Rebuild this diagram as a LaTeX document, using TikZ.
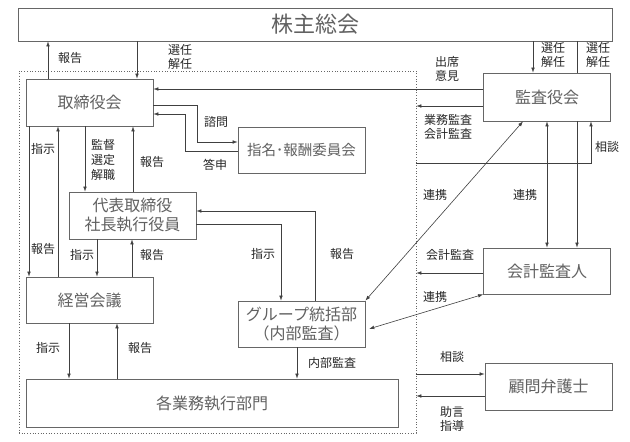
\documentclass[tikz,border=0pt]{standalone}
\usepackage{fontspec}
\newfontfamily\jp{Noto Sans CJK JP}
\usetikzlibrary{arrows.meta}
\begin{document}
\begin{tikzpicture}[x=1pt,y=-1pt,
  box/.style={draw=black!60, line width=0.8pt, font=\jp\fontsize{16}{19}\selectfont, text=black!62, inner sep=0pt, align=center},
  lbl/.style={font=\jp\fontsize{12}{14}\selectfont, text=black!85, inner sep=0pt, align=center},
  conn/.style={draw=black!75, line width=0.6pt},
  arr/.style={conn, -{Latex[length=5pt,width=3.6pt]}},
  darr/.style={conn, {Latex[length=5pt,width=3.6pt]}-{Latex[length=5pt,width=3.6pt]}}]
\useasboundingbox (0,0) rectangle (630,442);
\fill[white] (0,0) rectangle (630,442);
% organisation frame
\node[draw=black!60, dotted, line width=0.7pt, minimum width=397pt, minimum height=362pt, inner sep=0pt] (org) at (217.5,252) {};
% boxes
\node[box, minimum width=594pt, minimum height=33pt, font=\jp\fontsize{22}{24}\selectfont] (sh) at (315,24.5) {株主総会};
\node[box, minimum width=127pt, minimum height=47pt] (tori) at (89.5,102.5) {取締役会};
\node[box, minimum width=127pt, minimum height=46pt, font=\jp\fontsize{14.5}{18}\selectfont] (shimei) at (301.5,150) {指名･報酬委員会};
\node[box, minimum width=127pt, minimum height=47pt] (daihyo) at (132.5,215.5) {代表取締役\\社長執行役員};
\node[box, minimum width=127pt, minimum height=46pt] (keiei) at (89.5,300) {経営会議};
\node[box, minimum width=127pt, minimum height=46pt] (group) at (301.5,324) {グループ統括部\\（内部監査）};
\node[box, minimum width=372pt, minimum height=48pt] (kaku) at (212,403) {各業務執行部門};
\node[box, minimum width=127pt, minimum height=48pt] (kansa) at (547,97) {監査役会};
\node[box, minimum width=127pt, minimum height=46pt] (kaikei) at (547,271) {会計監査人};
\node[box, minimum width=127pt, minimum height=47pt] (komon) at (548.5,386.5) {顧問弁護士};
% helper coordinates
\foreach \v in {29,48,58,69,85,97,117,132,133,137,185,197,281,297,315,523,533,547,577,591}
  {\coordinate (x\v) at (\v,0);}
\foreach \v in {89,105,106,114,142,151,163,211,224,273,330,374,396}
  {\coordinate (y\v) at (0,\v);}
% connectors
\draw[arr] (tori.north -| x48) -- (sh.south -| x48);
\draw[arr] (sh.south -| x137) -- (tori.north -| x137);
\draw[arr] (kansa.west |- y89) -- (tori.east |- y89);
\draw[arr] (kansa.west |- y106) -- (org.east |- y106);
\draw[arr] (tori.east |- y105) -- (x197 |- y105) -- (x197 |- y142) -- (shimei.west |- y142);
\draw[arr] (shimei.west |- y151) -- (x185 |- y151) -- (x185 |- y114) -- (tori.east |- y114);
\draw[arr] (tori.south -| x29) -- (keiei.north -| x29);
\draw[arr] (keiei.north -| x58) -- (tori.south -| x58);
\draw[arr] (tori.south -| x85) -- (daihyo.north -| x85);
\draw[arr] (daihyo.north -| x133) -- (tori.south -| x133);
\draw[arr] (daihyo.south -| x97) -- (keiei.north -| x97);
\draw[arr] (keiei.north -| x132) -- (daihyo.south -| x132);
\draw[arr] (daihyo.east |- y224) -- (x281 |- y224) -- (group.north -| x281);
\draw[arr] (group.north -| x315) -- (x315 |- y211) -- (daihyo.east |- y211);
\draw[darr] (kansa.south -| x523) -- (group.north east);
\draw[darr] (kansa.south -| x547) -- (kaikei.north -| x547);
\draw[arr] (sh.south -| x533) -- (kansa.north -| x533);
\draw[conn] (sh.south -| x577) -- (kansa.north -| x577);
\draw[arr] (kansa.south -| x577) -- (kaikei.north -| x577);
\draw[arr] (org.east |- y163) -- (x591 |- y163) -- (kansa.south -| x591);
\draw[arr] (kaikei.west |- y273) -- (org.east |- y273);
\draw[darr, shorten <=4pt] (group.east |- y330) -- (kaikei.south west);
\draw[arr] (group.south -| x297) -- (kaku.north -| x297);
\draw[arr] (keiei.south -| x69) -- (kaku.north -| x69);
\draw[arr] (kaku.north -| x117) -- (keiei.south -| x117);
\draw[arr] (org.east |- y374) -- (komon.west |- y374);
\draw[arr] (komon.west |- y396) -- (org.east |- y396);
% labels
\node[lbl] (l1) at (70,58) {報告};
\node[lbl] (l2) at (180,57) {選任\\解任};
\node[lbl] (l3) at (447,68.5) {出席\\意見};
\node[lbl] (l4) at (553,55) {選任\\解任};
\node[lbl] (l5) at (598,55) {選任\\解任};
\node[lbl] (l6) at (448,127) {業務監査\\会計監査};
\node[lbl] (l7) at (216,122) {諮問};
\node[lbl] (l8) at (215,165) {答申};
\node[lbl] (l9) at (607,147) {相談};
\node[lbl] (l10) at (43,149) {指示};
\node[lbl, font=\jp\fontsize{12}{15}\selectfont] (l11) at (103,160) {監督\\選定\\解職};
\node[lbl] (l12) at (152,162) {報告};
\node[lbl] (l13) at (435,195) {連携};
\node[lbl] (l14) at (525,195) {連携};
\node[lbl] (l15) at (43,249) {報告};
\node[lbl] (l16) at (82,255) {指示};
\node[lbl] (l17) at (152,255) {報告};
\node[lbl] (l18) at (263,254) {指示};
\node[lbl] (l19) at (342,254) {報告};
\node[lbl] (l20) at (450,255) {会計監査};
\node[lbl] (l21) at (435,297) {連携};
\node[lbl] (l22) at (48,348) {指示};
\node[lbl] (l23) at (140,348) {報告};
\node[lbl] (l24) at (332,363) {内部監査};
\node[lbl] (l25) at (452,357) {相談};
\node[lbl] (l26) at (452,418.5) {助言\\指導};
\end{tikzpicture}
\end{document}
